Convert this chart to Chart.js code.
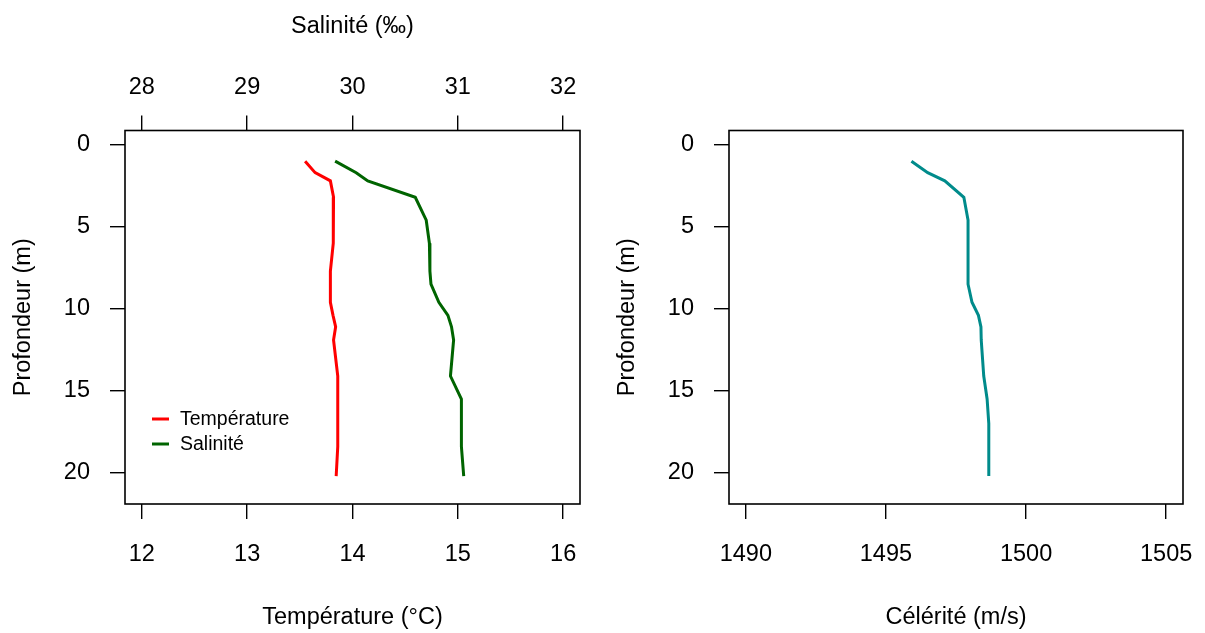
<!DOCTYPE html>
<html>
<head>
<meta charset="utf-8">
<script src="https://cdn.jsdelivr.net/npm/chart.js@4"></script>
<style>
  body { margin: 0; background: #fff; }
  #wrap { position: relative; width: 1205px; height: 633px; }
  canvas { position: absolute; top: 0; }
  #left { left: 0; }
  #right { left: 604px; }
</style>
</head>
<body>
<div id="wrap">
  <canvas id="left" width="602" height="633"></canvas>
  <canvas id="right" width="601" height="633"></canvas>
</div>
<script>
// profil CTD : profondeur (m)
const depth = [1.0, 1.7, 2.2, 3.2, 4.6, 6.0, 7.7, 8.5, 9.6, 10.4, 11.1, 11.9, 14.1, 15.5, 17.0, 18.4, 20.2];
const temperature = [13.55, 13.645, 13.79, 13.82, 13.82, 13.815, 13.79, 13.79, 13.79, 13.815, 13.84, 13.82, 13.86, 13.86, 13.86, 13.86, 13.845];
const salinity = [29.835, 30.035, 30.145, 30.596, 30.70, 30.73, 30.735, 30.745, 30.82, 30.906, 30.94, 30.96, 30.93, 31.034, 31.034, 31.034, 31.056];
const celerity = [1495.91, 1496.49, 1497.10, 1497.78, 1497.93, 1497.93, 1497.93, 1497.93, 1498.07, 1498.30, 1498.39, 1498.40, 1498.49, 1498.61, 1498.67, 1498.67, 1498.67];

const depthTicks = [0, 5, 10, 15, 20];
const tempTicks = [12, 13, 14, 15, 16];
const salTicks = [28, 29, 30, 31, 32];
const celTicks = [1490, 1495, 1500, 1505];

const FONT = "'Liberation Sans', Arial, sans-serif";
const tickFont = { family: FONT, size: 23.5 };

function points(xs) {
  return xs.map((v, i) => ({ x: v, y: depth[i] }));
}

function fixTicks(list) {
  return (scale) => { scale.ticks = list.map((v) => ({ value: v })); };
}

const boxPlugin = {
  id: "box",
  afterDraw(chart) {
    const a = chart.chartArea;
    const ctx = chart.ctx;
    ctx.save();
    ctx.strokeStyle = "#000";
    ctx.lineWidth = 1.6;
    ctx.strokeRect(a.left, a.top, a.right - a.left, a.bottom - a.top);
    ctx.restore();
  },
};

const legendPlugin = {
  id: "rlegend",
  afterDraw(chart, args, opts) {
    if (!opts.show) return;
    const a = chart.chartArea;
    const ctx = chart.ctx;
    ctx.save();
    ctx.font = `19.5px ${FONT}`;
    ctx.textBaseline = "middle";
    ctx.fillStyle = "#000";
    chart.data.datasets.forEach((ds, i) => {
      const y = a.bottom - 85 + i * 25;
      ctx.strokeStyle = ds.borderColor;
      ctx.lineWidth = 3;
      ctx.beginPath();
      ctx.moveTo(a.left + 27, y);
      ctx.lineTo(a.left + 44, y);
      ctx.stroke();
      ctx.fillText(ds.label, a.left + 55, y + 1);
    });
    ctx.restore();
  },
};

function axisX(position, min, max, ticksList, title, tickPad, titlePad, height) {
  return {
    type: "linear",
    position: position,
    min: min,
    max: max,
    afterBuildTicks: fixTicks(ticksList),
    afterFit: (s) => { s.height = height; s.paddingLeft = 0; s.paddingRight = 0; },
    grid: { drawOnChartArea: false, drawTicks: true, tickLength: 15, color: "#000", lineWidth: 1.4 },
    border: { display: false },
    ticks: { color: "#000", font: tickFont, padding: tickPad, maxRotation: 0, autoSkip: false, callback: (v) => String(v) },
    title: { display: true, text: title, color: "#000", font: tickFont, padding: titlePad },
  };
}

const yAxis = {
  type: "linear",
  position: "left",
  reverse: true,
  min: -0.87,
  max: 21.9,
  afterBuildTicks: fixTicks(depthTicks),
  afterFit: (s) => { s.width = 125; s.paddingTop = 0; s.paddingBottom = 0; },
  grid: { drawOnChartArea: false, drawTicks: true, tickLength: 15, color: "#000", lineWidth: 1.4 },
  border: { display: false },
  ticks: { color: "#000", font: tickFont, padding: 20, autoSkip: false, callback: (v) => String(v) },
  title: { display: true, text: "Profondeur (m)", color: "#000", font: tickFont, padding: { top: 9, bottom: 0 } },
};

const common = {
  responsive: false,
  animation: false,
  plugins: { legend: { display: false }, tooltip: { enabled: false } },
  elements: { point: { radius: 0 }, line: { tension: 0, borderWidth: 3 } },
};

new Chart(document.getElementById("left"), {
  type: "scatter",
  data: {
    datasets: [
      { label: "Température", data: points(temperature), borderColor: "#ff0000", showLine: true, xAxisID: "x" },
      { label: "Salinité", data: points(salinity), borderColor: "#006400", showLine: true, xAxisID: "x2" },
    ],
  },
  options: {
    ...common,
    layout: { padding: { left: 0, right: 22, top: 0, bottom: 0 } },
    plugins: { ...common.plugins, rlegend: { show: true } },
    scales: {
      x: axisX("bottom", 11.84, 16.16, tempTicks, "Température (°C)", 21, { top: 0, bottom: 1 }, 129),
      x2: axisX("top", 27.84, 32.16, salTicks, "Salinité (‰)", 14, { top: 12, bottom: 0 }, 130.5),
      y: yAxis,
    },
  },
  plugins: [boxPlugin, legendPlugin],
});

new Chart(document.getElementById("right"), {
  type: "scatter",
  data: {
    datasets: [
      { label: "Célérité", data: points(celerity), borderColor: "#008b8b", showLine: true, xAxisID: "x" },
    ],
  },
  options: {
    ...common,
    layout: { padding: { left: 0, right: 22, top: 130.5, bottom: 0 } },
    scales: {
      x: axisX("bottom", 1489.4, 1505.6, celTicks, "Célérité (m/s)", 21, { top: 0, bottom: 1 }, 129),
      y: { ...yAxis },
    },
  },
  plugins: [boxPlugin],
});
</script>
</body>
</html>
